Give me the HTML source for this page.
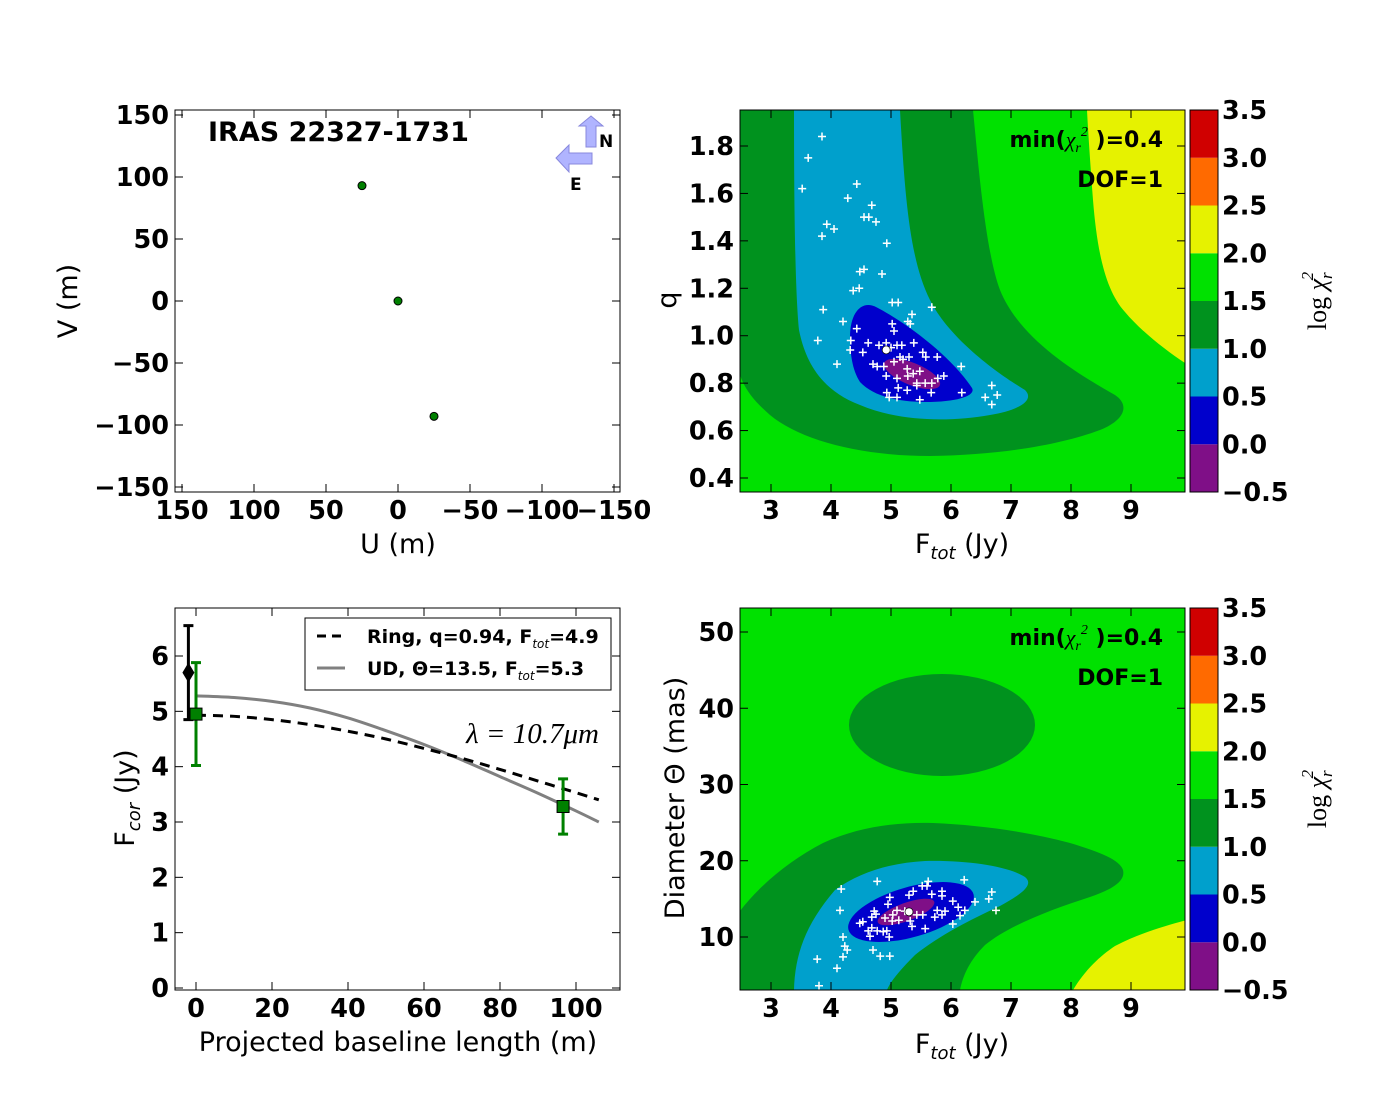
<!DOCTYPE html>
<html><head><meta charset="utf-8"><style>
html,body{margin:0;padding:0;background:#fff;}
svg{display:block;}
text{font-family:"DejaVu Sans","Liberation Sans",sans-serif;}
.tk{font-size:25.5px;font-weight:bold;fill:#000;}
.al{font-size:27px;fill:#000;}
</style></head><body>
<svg id="fig" width="1400" height="1100" viewBox="0 0 1400 1100" xmlns="http://www.w3.org/2000/svg"></svg>
<script>
// ---------- data ----------
const uvU = [25, 0, -25];
const uvV = [93, 0, -93];
const uvTicks = [150, 100, 50, 0, -50, -100, -150];

const ringF = [4.92,3.85,3.62,3.52,4.43,4.28,4.68,4.55,4.63,4.75,3.93,4.05,3.85,4.93,4.55,4.48,4.85,4.47,4.37,5.02,5.12,5.68,3.87,5.35,5.28,5.32,4.2,5.02,5.05,4.43,3.78,4.33,4.32,4.62,4.53,4.8,5.0,5.1,5.18,5.38,5.15,5.3,5.53,5.58,5.77,4.1,4.7,4.77,4.88,5.05,5.2,5.27,5.37,5.48,6.17,4.92,5.1,5.28,5.43,5.57,5.68,5.78,5.88,5.12,5.27,5.43,5.67,4.93,4.97,5.1,5.48,6.18,6.68,6.57,6.77,6.68];
const ringQ = [0.97,1.84,1.75,1.62,1.64,1.58,1.55,1.50,1.50,1.48,1.47,1.45,1.42,1.39,1.28,1.27,1.26,1.20,1.19,1.14,1.14,1.12,1.11,1.09,1.06,1.05,1.06,1.05,1.02,1.03,0.98,0.98,0.94,0.97,0.93,0.96,0.95,0.96,0.96,0.97,0.91,0.91,0.93,0.91,0.91,0.88,0.88,0.87,0.87,0.89,0.90,0.86,0.84,0.85,0.87,0.83,0.82,0.83,0.80,0.80,0.80,0.82,0.83,0.78,0.77,0.79,0.76,0.76,0.74,0.74,0.73,0.76,0.79,0.74,0.75,0.71];
const ringBest = [4.92, 0.94];

const udF = [4.17,4.77,5.62,6.22,5.52,5.6,5.37,5.85,4.98,5.68,5.85,5.3,6.68,6.63,4.95,6.03,6.4,4.15,6.75,6.12,6.23,5.1,5.23,5.77,5.9,4.72,4.75,5.03,5.43,5.53,5.73,5.85,4.9,5.02,5.13,4.68,4.48,4.53,6.15,5.32,6.03,5.57,5.35,4.68,4.62,4.77,4.87,4.93,4.65,4.97,4.2,4.23,4.27,4.7,4.82,4.98,3.77,4.2,4.1,3.8];
const udD = [16.3,17.3,17.3,17.5,16.7,16.7,16.0,16.0,15.2,15.6,15.4,15.5,15.9,15.0,14.3,14.7,14.6,13.5,13.5,13.9,13.5,13.5,13.4,13.5,13.4,13.4,13.0,12.9,12.9,12.9,12.6,12.9,12.5,12.1,12.2,12.6,11.8,12.0,12.8,12.1,11.7,11.1,11.4,11.2,10.8,10.8,10.7,10.8,10.1,10.0,10.0,8.8,8.3,8.3,7.5,7.5,7.1,7.4,5.9,3.6];
const udBest = [5.3, 13.3];

const baseB = [0,10,20,30,40,50,60,70,80,90,100,106];
const ringModel = [4.93,4.91,4.85,4.76,4.64,4.5,4.33,4.15,3.95,3.74,3.53,3.40];
const udModel = [5.28,5.25,5.18,5.06,4.88,4.65,4.4,4.12,3.82,3.52,3.2,3.0];
const obsB = [0, 96.6];
const obsF = [4.95, 3.28];
const obsErr = [0.93, 0.5];
const totB = [-2];
const totF = [5.7];
const totErr = [0.85];

const cbLevels = [-0.5,0,0.5,1,1.5,2,2.5,3,3.5];
const cbColors = ['#7f0f87','#0000cc','#00a0cc','#00921e','#00e100','#e6f200','#ff6a00','#d00000'];

// ---------- helpers ----------
const NS = 'http://www.w3.org/2000/svg';
const fig = document.getElementById('fig');
function el(tag, attrs, parent, txt){
  const e = document.createElementNS(NS, tag);
  for (const k in attrs) e.setAttribute(k, attrs[k]);
  if (txt !== undefined) e.textContent = txt;
  (parent||fig).appendChild(e);
  return e;
}
function lin(d0,d1,p0,p1){ return v => p0 + (v-d0)*(p1-p0)/(d1-d0); }
function group(name){
  const g = el('g', {});
  
  
  return g;
}
function smooth(pts){
  let d = 'M'+pts[0][0]+','+pts[0][1];
  for(let i=0;i<pts.length-1;i++){
    const p0=pts[Math.max(0,i-1)], p1=pts[i], p2=pts[i+1], p3=pts[Math.min(pts.length-1,i+2)];
    const c1x=p1[0]+(p2[0]-p0[0])/6, c1y=p1[1]+(p2[1]-p0[1])/6;
    const c2x=p2[0]-(p3[0]-p1[0])/6, c2y=p2[1]-(p3[1]-p1[1])/6;
    d += ` C${c1x},${c1y} ${c2x},${c2y} ${p2[0]},${p2[1]}`;
  }
  return d;
}
function axes(g, box, sx, sy, xt, yt, xlab, ylab, opts){
  opts = opts || {};
  const [x0,y0,x1,y1] = box;
  const tl = 8;
  xt.forEach(t=>{
    const x = sx(t);
    el('line',{x1:x,y1:y1,x2:x,y2:y1-tl,stroke:'#000','stroke-width':1},g);
    el('line',{x1:x,y1:y0,x2:x,y2:y0+tl,stroke:'#000','stroke-width':1},g);
    const tx = el('text',{x:x,y:y1+27,'text-anchor':'middle',class:'tk'},g,(t<0?'\u2212'+(-t):''+t));
    
    
  });
  yt.forEach(t=>{
    const y = sy(t);
    el('line',{x1:x0,y1:y,x2:x0+tl,y2:y,stroke:'#000','stroke-width':1},g);
    el('line',{x1:x1,y1:y,x2:x1-tl,y2:y,stroke:'#000','stroke-width':1},g);
    const s = opts.yfmt ? opts.yfmt(t) : (t<0?'\u2212'+(-t):''+t);
    const tx = el('text',{x:x0-6,y:y+9,'text-anchor':'end',class:'tk'},g,s);
    
    
  });
  el('rect',{x:x0,y:y0,width:x1-x0,height:y1-y0,fill:'none',stroke:'#000','stroke-width':1},g);
}
function cross(g, x, y){
  el('path',{d:`M${x-4},${y}H${x+4}M${x},${y-4}V${y+4}`,stroke:'#fff','stroke-width':1.5},g);
}

// ---------- panel 1: uv coverage ----------
{
  const g = group('uv-coverage-panel');
  const box=[175,110,620,492];
  const sx = lin(0,-150,398,614), sy = lin(0,150,301,115);
  axes(g, box, sx, sy, uvTicks, uvTicks);
  const t = el('text',{x:398,y:553,'text-anchor':'middle',class:'al'},g,'U (m)');
   
  const t2 = el('text',{x:0,y:0,'text-anchor':'middle',class:'al',transform:'translate(77,301) rotate(-90)'},g,'V (m)');
   
  const ti = el('text',{x:208,y:141,style:'font-size:27px;font-weight:bold'},g,'IRAS 22327-1731');
   
  uvU.forEach((u,i)=>{
    const c = el('circle',{cx:sx(u),cy:sy(uvV[i]),r:4,fill:'#008000',stroke:'#000','stroke-width':1},g);
     
  });
  const cp = el('g',{},g);
   
  el('polygon',{points:'586,147 586,126 579,126 591,116 603,126 596,126 596,147',fill:'#b0b4ff',stroke:'#8888dd','stroke-width':1},cp);
  el('polygon',{points:'592,153 569,153 569,145 556,158 569,172 569,164 592,164',fill:'#b0b4ff',stroke:'#8888dd','stroke-width':1},cp);
  el('text',{x:599,y:147,style:'font-size:17px;font-weight:bold'},cp,'N');
  el('text',{x:570,y:190,style:'font-size:17px;font-weight:bold'},cp,'E');
}

// ---------- colorbar ----------
function colorbar(y0,y1,name){
  const g = group(name);
  const sc = lin(-0.5,3.5,y1,y0);
  for(let i=0;i<cbColors.length;i++){
    const r = el('rect',{x:1190,y:sc(cbLevels[i+1]),width:28,height:sc(cbLevels[i])-sc(cbLevels[i+1]),fill:cbColors[i]},g);
     
  }
  cbLevels.forEach(v=>{
    const y = sc(v);
    const s = v<0 ? '\u22120.5' : v.toFixed(1);
    el('text',{x:1222,y:y+9,class:'tk'},g,s);
  });
  el('rect',{x:1190,y:y0,width:28,height:y1-y0,fill:'none',stroke:'#000'},g);
  const l = el('text',{x:0,y:0,'text-anchor':'middle',style:'font-family:"Liberation Serif",serif;font-size:26px;font-style:italic',transform:`translate(1326,${(y0+y1)/2}) rotate(-90)`},g);
   
  l.innerHTML = '<tspan font-style="normal">log </tspan>χ<tspan font-size="17" dy="6">r</tspan><tspan font-size="17" dy="-19" dx="-8">2</tspan>';
}
function minLabel(g, y){
  const t = el('text',{x:1163,y:y,'text-anchor':'end',style:'font-size:22px;font-weight:bold'},g);
   
  t.innerHTML = 'min(<tspan style="font-family:Liberation Serif,serif;font-style:italic;font-weight:normal">χ<tspan font-size="14" dy="5">r</tspan><tspan font-size="14" dy="-16">2</tspan></tspan><tspan dy="11"> )=0.4</tspan>';
  const d = el('text',{x:1163,y:y+40,'text-anchor':'end',style:'font-size:22px;font-weight:bold'},g,'DOF=1');
   
}
function ftotLabel(g,y){
  const t = el('text',{x:962,y:y,'text-anchor':'middle',class:'al'},g);
   
  t.innerHTML = 'F<tspan font-size="18" dy="6" font-style="italic">tot</tspan><tspan dy="-6"> (Jy)</tspan>';
}

// ---------- panel 2: ring chi2 map ----------
{
  const g = group('ring-chi2-map');
  const box=[740,110,1185,492];
  const sx = lin(3,9,771,1131), sy = lin(1.8,0.4,146,478);
  const cp = el('clipPath',{id:'c1'},g);
  el('rect',{x:740,y:110,width:445,height:382},cp);
  const cg = el('g',{'clip-path':'url(#c1)'},g);
  el('rect',{x:740,y:110,width:445,height:382,fill:cbColors[4]},cg);
  el('path',{d:'M740,110 L973,110 C978,160 985,250 1000,290 C1020,340 1080,375 1115,395 C1130,405 1125,420 1100,430 C1060,445 1000,455 930,456 C860,456 800,440 770,415 C755,402 745,390 740,375 Z',fill:cbColors[3]},cg);
  el('path',{d:'M794,110 L900,110 C905,200 910,260 930,300 C950,340 1000,375 1025,390 C1035,400 1020,410 990,415 C950,422 900,422 860,405 C820,390 805,360 799,330 C795,290 794,200 794,110 Z',fill:cbColors[2]},cg);
  el('path',{d:'M850,337 C850,312 862,300 876,307 C905,322 950,355 972,388 C976,395 960,402 925,402 C895,402 872,395 860,382 C852,370 850,352 850,337 Z',fill:cbColors[1]},cg);
  el('ellipse',{cx:912,cy:374,rx:30,ry:11,transform:'rotate(22 912 374)',fill:cbColors[0]},cg);
  el('path',{d:'M1087,110 L1185,110 L1185,363 C1165,350 1140,330 1125,312 C1105,290 1097,250 1093,200 C1090,160 1088,130 1087,110 Z',fill:cbColors[5]},cg);
  ringF.forEach((f,i)=>{ const c=el('g',{},cg);   cross(c,sx(f),sy(ringQ[i])); });
  const b = el('circle',{cx:sx(ringBest[0]),cy:sy(ringBest[1]),r:4,fill:'#fff',stroke:'#000','stroke-width':0.7},cg);
   
  axes(g, box, sx, sy, [3,4,5,6,7,8,9], [1.8,1.6,1.4,1.2,1.0,0.8,0.6,0.4], null, null, {yfmt:v=>v.toFixed(1)});
  minLabel(g,147);
  ftotLabel(g,553);
  const q = el('text',{x:0,y:0,'text-anchor':'middle',class:'al',transform:'translate(676,300) rotate(-90)'},g,'q');
   
}
colorbar(110,492,'colorbar-top');

// ---------- panel 3: visibility ----------
{
  const g = group('correlated-flux-panel');
  const box=[175,608,620,990];
  const sx = lin(0,100,196,576), sy = lin(0,6,988,656);
  axes(g, box, sx, sy, [0,20,40,60,80,100], [0,1,2,3,4,5,6]);
  const p1 = smooth(baseB.map((b,i)=>[sx(b),sy(ringModel[i])]));
  const p2 = smooth(baseB.map((b,i)=>[sx(b),sy(udModel[i])]));
  const l2 = el('path',{d:p2,fill:'none',stroke:'#808080','stroke-width':3},g);
   
  const l1 = el('path',{d:p1,fill:'none',stroke:'#000','stroke-width':3,'stroke-dasharray':'10,7'},g);
   
  totB.forEach((b,i)=>{
    const x=sx(b), y=sy(totF[i]), ya=sy(totF[i]+totErr[i]), yb=sy(totF[i]-totErr[i]);
    const e=el('g',{},g);  
    el('path',{d:`M${x},${ya}V${yb}M${x-5},${ya}H${x+5}M${x-5},${yb}H${x+5}`,stroke:'#000','stroke-width':3},e);
    el('polygon',{points:`${x},${y-10} ${x+6},${y} ${x},${y+10} ${x-6},${y}`,fill:'#000'},e);
  });
  obsB.forEach((b,i)=>{
    const x=sx(b), y=sy(obsF[i]), ya=sy(obsF[i]+obsErr[i]), yb=sy(obsF[i]-obsErr[i]);
    const e=el('g',{},g);  
    el('path',{d:`M${x},${ya}V${yb}M${x-5},${ya}H${x+5}M${x-5},${yb}H${x+5}`,stroke:'#008000','stroke-width':3},e);
    el('rect',{x:x-6,y:y-6,width:12,height:12,fill:'#008000',stroke:'#000','stroke-width':1},e);
  });
  const lg = el('g',{},g);  
  el('rect',{x:305,y:618,width:306,height:72,fill:'#fff',stroke:'#000','stroke-width':1},lg);
  el('path',{d:'M317,636H345',stroke:'#000','stroke-width':3,'stroke-dasharray':'9,6'},lg);
  el('path',{d:'M317,668H345',stroke:'#808080','stroke-width':3},lg);
  const a = el('text',{x:367,y:643,style:'font-size:19px;font-weight:bold'},lg);
  a.innerHTML='Ring, q=0.94, F<tspan font-size="12" dy="5" font-style="italic" font-weight="normal">tot</tspan><tspan dy="-5">=4.9</tspan>';
  const bb = el('text',{x:367,y:675,style:'font-size:19px;font-weight:bold'},lg);
  bb.innerHTML='UD, Θ=13.5, F<tspan font-size="12" dy="5" font-style="italic" font-weight="normal">tot</tspan><tspan dy="-5">=5.3</tspan>';
  const w = el('text',{x:599,y:743,'text-anchor':'end',style:'font-family:"Liberation Serif",serif;font-size:29px;font-style:italic'},g,'λ = 10.7μm');
   
  const t = el('text',{x:398,y:1051,'text-anchor':'middle',class:'al'},g,'Projected baseline length (m)');
   
  const t2 = el('text',{x:0,y:0,'text-anchor':'middle',class:'al',transform:'translate(134,798) rotate(-90)'},g);
   
  t2.innerHTML='F<tspan font-size="18" dy="6" font-style="italic">cor</tspan><tspan dy="-6"> (Jy)</tspan>';
}

// ---------- panel 4: UD chi2 map ----------
{
  const g = group('ud-chi2-map');
  const box=[740,608,1185,990];
  const sx = lin(3,9,771,1131), sy = lin(10,50,937,632);
  const cp = el('clipPath',{id:'c2'},g);
  el('rect',{x:740,y:608,width:445,height:382},cp);
  const cg = el('g',{'clip-path':'url(#c2)'},g);
  el('rect',{x:740,y:608,width:445,height:382,fill:cbColors[4]},cg);
  el('ellipse',{cx:942,cy:725,rx:93,ry:51,fill:cbColors[3]},cg);
  el('path',{d:'M740,911 C760,885 790,860 823,843 C860,826 900,822 933,823 C980,825 1030,832 1070,843 C1100,852 1120,860 1123,870 C1126,882 1110,890 1090,897 C1050,910 1010,925 985,945 C970,960 963,975 960,990 L740,990 Z',fill:cbColors[3]},cg);
  el('path',{d:'M794,990 C795,955 805,925 835,890 C860,872 890,863 925,861 C970,860 1010,867 1025,877 C1035,885 1020,895 1000,906 C970,920 940,935 915,955 C900,970 890,982 887,990 Z',fill:cbColors[2]},cg);
  el('ellipse',{cx:911,cy:912,rx:65,ry:25,transform:'rotate(-16 911 912)',fill:cbColors[1]},cg);
  el('ellipse',{cx:906,cy:912,rx:30,ry:9,transform:'rotate(-20 906 912)',fill:cbColors[0]},cg);
  el('path',{d:'M1073,990 C1085,970 1100,956 1115,946 C1140,933 1165,926 1187,920 L1187,990 Z',fill:cbColors[5]},cg);
  udF.forEach((f,i)=>{ const c=el('g',{},cg);   cross(c,sx(f),sy(udD[i])); });
  const b = el('circle',{cx:sx(udBest[0]),cy:sy(udBest[1]),r:4,fill:'#fff',stroke:'#000','stroke-width':0.7},cg);
   
  axes(g, box, sx, sy, [3,4,5,6,7,8,9], [10,20,30,40,50]);
  minLabel(g,645);
  ftotLabel(g,1053);
  const q = el('text',{x:0,y:0,'text-anchor':'middle',class:'al',transform:'translate(684,798) rotate(-90)'},g,'Diameter Θ (mas)');
   
}
colorbar(608,990,'colorbar-bottom');
</script>
</body></html>
